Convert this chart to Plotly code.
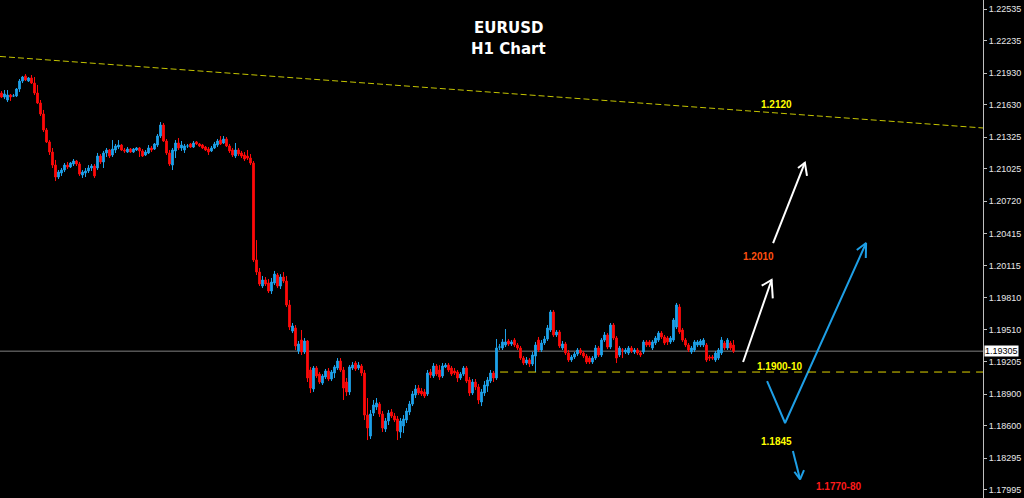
import plotly.graph_objects as go

# ---------------- data (EURUSD H1) ----------------
open_ = [
1.21742,1.21704,1.21676,1.21723,1.21714,1.21714,1.21780,1.21855,1.21903,1.21855,
1.21884,1.21836,1.21742,1.21648,1.21544,1.21393,1.21280,1.21185,1.21062,1.20949,
1.20987,1.21015,1.21062,1.21044,1.21072,1.21100,1.21072,1.20968,1.20987,1.21006,
1.21034,1.21053,1.21034,1.21147,1.21091,1.21176,1.21204,1.21157,1.21204,1.21232,
1.21251,1.21204,1.21185,1.21213,1.21185,1.21204,1.21223,1.21195,1.21157,1.21176,
1.21223,1.21213,1.21251,1.21336,1.21440,1.21289,1.21176,1.21062,1.21195,1.21270,
1.21223,1.21204,1.21242,1.21261,1.21232,1.21280,1.21261,1.21251,1.21232,1.21213,
1.21195,1.21223,1.21251,1.21298,1.21270,1.21308,1.21242,1.21204,1.21147,1.21204,
1.21176,1.21157,1.21147,1.21128,1.21081,1.20166,1.20052,1.19920,1.19977,1.19948,
1.19873,1.19948,1.20024,1.19920,1.20005,1.19967,1.19741,1.19495,1.19524,1.19307,
1.19410,1.19297,1.19401,1.19127,1.18948,1.19146,1.19089,1.19004,1.19061,1.19118,
1.19042,1.19099,1.19146,1.19212,1.19127,1.19014,1.18920,1.19146,1.19193,1.19146,
1.19165,1.19099,1.18702,1.18504,1.18721,1.18778,1.18806,1.18712,1.18570,1.18646,
1.18731,1.18693,1.18665,1.18542,1.18599,1.18655,1.18731,1.18806,1.18891,1.18957,
1.18929,1.18920,1.18901,1.19108,1.19071,1.19165,1.19127,1.19071,1.19156,1.19174,
1.19146,1.19118,1.19108,1.19052,1.19089,1.19146,1.19033,1.18910,1.19014,1.18967,
1.18825,1.18910,1.18976,1.19023,1.19099,1.19052,1.19344,1.19335,1.19363,1.19401,
1.19373,1.19410,1.19363,1.19335,1.19240,1.19193,1.19222,1.19184,1.19259,1.19410,
1.19316,1.19382,1.19420,1.19505,1.19675,1.19458,1.19486,1.19335,1.19373,1.19288,
1.19222,1.19250,1.19278,1.19316,1.19288,1.19259,1.19240,1.19203,1.19240,1.19335,
1.19269,1.19410,1.19458,1.19344,1.19552,1.19429,1.19269,1.19316,1.19297,1.19288,
1.19335,1.19297,1.19316,1.19288,1.19297,1.19392,1.19392,1.19335,1.19382,1.19410,
1.19476,1.19439,1.19429,1.19392,1.19410,1.19533,1.19722,1.19505,1.19410,1.19363,
1.19297,1.19316,1.19363,1.19363,1.19363,1.19363,1.19250,1.19250,1.19222,1.19240,
1.19288,1.19382,1.19335,1.19382,1.19363]

high = [
1.21761,1.21770,1.21770,1.21733,1.21733,1.21789,1.21874,1.21903,1.21921,1.21893,
1.21912,1.21893,1.21818,1.21676,1.21582,1.21412,1.21298,1.21223,1.21110,1.21015,
1.21034,1.21081,1.21091,1.21091,1.21119,1.21110,1.21091,1.21015,1.21034,1.21062,
1.21072,1.21072,1.21176,1.21166,1.21195,1.21223,1.21213,1.21298,1.21261,1.21298,
1.21261,1.21223,1.21232,1.21223,1.21223,1.21232,1.21232,1.21213,1.21204,1.21251,
1.21242,1.21270,1.21355,1.21468,1.21459,1.21308,1.21204,1.21223,1.21298,1.21317,
1.21289,1.21261,1.21261,1.21270,1.21289,1.21289,1.21270,1.21261,1.21242,1.21232,
1.21242,1.21280,1.21308,1.21336,1.21336,1.21327,1.21261,1.21223,1.21270,1.21223,
1.21195,1.21185,1.21204,1.21166,1.21100,1.20354,1.20090,1.20015,1.20005,1.19986,
1.19996,1.20062,1.20043,1.20033,1.20052,1.20015,1.19788,1.19571,1.19552,1.19401,
1.19505,1.19429,1.19410,1.19156,1.19165,1.19165,1.19108,1.19089,1.19137,1.19146,
1.19127,1.19174,1.19240,1.19240,1.19156,1.19052,1.19174,1.19203,1.19212,1.19203,
1.19184,1.19127,1.18863,1.18750,1.18844,1.18863,1.18825,1.18740,1.18674,1.18750,
1.18759,1.18721,1.18693,1.18674,1.18702,1.18768,1.18835,1.18929,1.18986,1.18986,
1.18957,1.18948,1.19127,1.19137,1.19193,1.19184,1.19174,1.19193,1.19193,1.19193,
1.19165,1.19146,1.19127,1.19108,1.19165,1.19165,1.19061,1.19042,1.19042,1.18995,
1.18948,1.19023,1.19061,1.19127,1.19118,1.19420,1.19373,1.19420,1.19514,1.19420,
1.19410,1.19429,1.19382,1.19354,1.19259,1.19250,1.19240,1.19297,1.19392,1.19439,
1.19410,1.19448,1.19552,1.19694,1.19694,1.19505,1.19505,1.19401,1.19392,1.19316,
1.19269,1.19297,1.19335,1.19335,1.19307,1.19278,1.19259,1.19259,1.19363,1.19354,
1.19429,1.19486,1.19476,1.19571,1.19571,1.19448,1.19354,1.19335,1.19335,1.19354,
1.19354,1.19335,1.19335,1.19307,1.19410,1.19410,1.19410,1.19410,1.19448,1.19495,
1.19495,1.19458,1.19448,1.19448,1.19618,1.19760,1.19750,1.19524,1.19429,1.19382,
1.19354,1.19410,1.19410,1.19420,1.19429,1.19382,1.19269,1.19269,1.19307,1.19335,
1.19439,1.19401,1.19429,1.19401,1.19410]

low = [
1.21695,1.21685,1.21657,1.21667,1.21704,1.21704,1.21752,1.21836,1.21855,1.21846,
1.21827,1.21723,1.21638,1.21525,1.21374,1.21270,1.21157,1.21034,1.20911,1.20930,
1.20959,1.20996,1.21025,1.21034,1.21053,1.21053,1.20959,1.20940,1.20949,1.20987,
1.21006,1.20940,1.21015,1.21072,1.21034,1.21138,1.21128,1.21138,1.21176,1.21213,
1.21195,1.21176,1.21176,1.21176,1.21176,1.21195,1.21138,1.21138,1.21147,1.21166,
1.21185,1.21204,1.21232,1.21317,1.21280,1.21157,1.21053,1.21015,1.21128,1.21204,
1.21195,1.21176,1.21223,1.21223,1.21223,1.21251,1.21232,1.21213,1.21195,1.21157,
1.21185,1.21213,1.21232,1.21251,1.21261,1.21232,1.21176,1.21138,1.21128,1.21147,
1.21128,1.21100,1.21110,1.21062,1.20147,1.20024,1.19920,1.19901,1.19920,1.19854,
1.19845,1.19930,1.19901,1.19892,1.19948,1.19722,1.19505,1.19476,1.19316,1.19278,
1.19269,1.19278,1.19014,1.18910,1.18920,1.19052,1.18995,1.18986,1.19042,1.19023,
1.19023,1.19052,1.19127,1.19108,1.18844,1.18882,1.18891,1.19127,1.19118,1.19127,
1.19071,1.18655,1.18466,1.18476,1.18693,1.18750,1.18684,1.18542,1.18542,1.18608,
1.18674,1.18636,1.18466,1.18485,1.18532,1.18627,1.18702,1.18787,1.18863,1.18891,
1.18882,1.18863,1.18882,1.19052,1.19052,1.19071,1.19033,1.19052,1.19146,1.19108,
1.19071,1.19080,1.19014,1.19033,1.19071,1.19004,1.18882,1.18891,1.18938,1.18806,
1.18787,1.18882,1.18920,1.19004,1.19014,1.19033,1.19316,1.19316,1.19344,1.19354,
1.19354,1.19344,1.19316,1.19222,1.19174,1.19174,1.19156,1.19165,1.19108,1.19297,
1.19297,1.19363,1.19401,1.19486,1.19439,1.19439,1.19335,1.19316,1.19269,1.19203,
1.19203,1.19231,1.19259,1.19269,1.19240,1.19184,1.19184,1.19184,1.19222,1.19250,
1.19250,1.19392,1.19325,1.19325,1.19410,1.19193,1.19250,1.19240,1.19278,1.19269,
1.19288,1.19278,1.19269,1.19250,1.19278,1.19344,1.19344,1.19316,1.19363,1.19392,
1.19420,1.19363,1.19363,1.19373,1.19392,1.19514,1.19467,1.19392,1.19344,1.19297,
1.19278,1.19297,1.19344,1.19344,1.19344,1.19203,1.19212,1.19222,1.19203,1.19222,
1.19269,1.19316,1.19316,1.19316,1.19288]

close = [
1.21704,1.21733,1.21723,1.21704,1.21714,1.21780,1.21855,1.21893,1.21865,1.21884,
1.21836,1.21742,1.21648,1.21544,1.21393,1.21280,1.21185,1.21062,1.20949,1.20996,
1.21015,1.21062,1.21044,1.21081,1.21100,1.21072,1.20977,1.20996,1.21006,1.21034,
1.21053,1.20959,1.21147,1.21091,1.21176,1.21204,1.21147,1.21213,1.21242,1.21251,
1.21204,1.21195,1.21213,1.21185,1.21213,1.21223,1.21195,1.21147,1.21185,1.21223,
1.21204,1.21261,1.21336,1.21440,1.21289,1.21176,1.21072,1.21204,1.21270,1.21223,
1.21251,1.21242,1.21242,1.21232,1.21270,1.21261,1.21242,1.21223,1.21204,1.21185,
1.21223,1.21261,1.21289,1.21261,1.21308,1.21242,1.21195,1.21157,1.21204,1.21166,
1.21147,1.21119,1.21128,1.21081,1.20166,1.20052,1.19939,1.19977,1.19939,1.19873,
1.19958,1.20033,1.19920,1.20005,1.19967,1.19741,1.19533,1.19543,1.19354,1.19373,
1.19297,1.19401,1.19052,1.18957,1.19146,1.19071,1.19014,1.19071,1.19118,1.19042,
1.19108,1.19156,1.19212,1.19127,1.18957,1.18920,1.19156,1.19174,1.19137,1.19174,
1.19099,1.18702,1.18580,1.18712,1.18797,1.18816,1.18712,1.18580,1.18646,1.18721,
1.18693,1.18655,1.18551,1.18646,1.18665,1.18740,1.18806,1.18901,1.18948,1.18910,
1.18901,1.18882,1.19099,1.19080,1.19165,1.19089,1.19061,1.19165,1.19174,1.19127,
1.19089,1.19099,1.19052,1.19089,1.19146,1.19023,1.18910,1.19014,1.18967,1.18844,
1.18920,1.18986,1.19033,1.19099,1.19052,1.19335,1.19344,1.19392,1.19392,1.19373,
1.19392,1.19363,1.19335,1.19240,1.19193,1.19222,1.19184,1.19269,1.19363,1.19316,
1.19382,1.19420,1.19524,1.19675,1.19458,1.19486,1.19354,1.19373,1.19288,1.19222,
1.19250,1.19278,1.19316,1.19288,1.19259,1.19203,1.19203,1.19240,1.19335,1.19269,
1.19410,1.19458,1.19344,1.19552,1.19429,1.19240,1.19335,1.19316,1.19316,1.19335,
1.19307,1.19316,1.19288,1.19269,1.19392,1.19363,1.19363,1.19392,1.19429,1.19476,
1.19439,1.19382,1.19392,1.19429,1.19599,1.19741,1.19486,1.19410,1.19363,1.19316,
1.19335,1.19392,1.19392,1.19401,1.19410,1.19222,1.19240,1.19240,1.19288,1.19316,
1.19410,1.19335,1.19410,1.19335,1.19305]

bar_index = list(range(len(close)))

price_ticks = [1.22535, 1.22235, 1.21930, 1.21630, 1.21325, 1.21025, 1.20720,
               1.20415, 1.20115, 1.19810, 1.19510, 1.19205, 1.18900, 1.18600,
               1.18295, 1.17995]
current_price = 1.19305
support_level = 1.19108
trend_start = 1.22087
trend_end = 1.21412

BULL = "#1ea2ea"
BEAR = "#ff0a0a"

fig = go.Figure()

fig.add_trace(go.Candlestick(
    x=bar_index, open=open_, high=high, low=low, close=close,
    increasing=dict(line=dict(color=BULL, width=1), fillcolor=BULL),
    decreasing=dict(line=dict(color=BEAR, width=1), fillcolor=BEAR),
    whiskerwidth=0, hoverinfo="skip", showlegend=False,
))

# analyst drawings (open-headed arrows)
def arrow_trace(xs, ys, color):
    return go.Scatter(x=xs, y=ys, mode="lines", line=dict(color=color, width=2),
                      hoverinfo="skip", showlegend=False)

fig.add_trace(arrow_trace([247.2, 256.7, None, 253.4, 256.7, 257.1],
                          [1.19203, 1.19977, None, 1.19923, 1.19977, 1.19804], "#ffffff"))
fig.add_trace(arrow_trace([257.2, 267.8, None, 265.5, 267.8, 268.5],
                          [1.20326, 1.21084, None, 1.21034, 1.21084, 1.20959], "#ffffff"))
fig.add_trace(arrow_trace([255.2, 261.2, 288.2, None, 285.1, 288.2, 288.1],
                          [1.19023, 1.18627, 1.20326, None, 1.20260, 1.20326, 1.20184], "#1e9fe6"))
fig.add_trace(arrow_trace([263.8, 266.2, None, 264.3, 266.2, 267.5],
                          [1.18363, 1.18095, None, 1.18167, 1.18095, 1.18183], "#1e9fe6"))

shapes = [
    dict(type="line", xref="paper", yref="y", x0=0, x1=1, y0=current_price, y1=current_price,
         line=dict(color="#808080", width=1), layer="below"),
    dict(type="line", xref="x", yref="y", x0=-0.5, x1=327.17, y0=trend_start, y1=trend_end,
         line=dict(color="#c4c400", width=1, dash="6px,3px")),
    dict(type="line", xref="x", yref="y", x0=166.2, x1=327.17, y0=support_level, y1=support_level,
         line=dict(color="#e0d400", width=1, dash="8px,6px")),
]

lab_font = dict(family="Liberation Sans, Arial, sans-serif", size=10)
annotations = [
    dict(text="<b>EURUSD</b>", xref="paper", yref="paper", x=0.5168, y=1 - 17 / 498,
         showarrow=False, font=dict(family="DejaVu Sans, sans-serif", size=15, color="white")),
    dict(text="<b>H1 Chart</b>", xref="paper", yref="paper", x=0.5168, y=1 - 38 / 498,
         showarrow=False, font=dict(family="DejaVu Sans, sans-serif", size=15, color="white")),
    dict(text="<b>1.2120</b>", x=258.2, y=1.21638, showarrow=False, font=dict(lab_font, color="#ffff00")),
    dict(text="<b>1.2010</b>", x=252.2, y=1.20203, showarrow=False, font=dict(lab_font, color="#ff5010")),
    dict(text="<b>1.1900-10</b>", x=259.5, y=1.19165, showarrow=False, font=dict(lab_font, color="#ffff00")),
    dict(text="<b>1.1845</b>", x=258.2, y=1.18457, showarrow=False, font=dict(lab_font, color="#ffff00")),
    dict(text="<b>1.1770-80</b>", x=279.0, y=1.18023, showarrow=False, font=dict(lab_font, color="#ff1a1a")),
    dict(text=f"{current_price:.5f}", xref="paper", yref="y", x=1, y=current_price, xanchor="left",
         xshift=1, showarrow=False, bgcolor="white", borderpad=0,
         font=dict(family="Liberation Sans, Arial, sans-serif", size=9, color="black")),
]

fig.update_layout(
    width=1024, height=498,
    margin=dict(l=0, r=41, t=0, b=0),
    paper_bgcolor="black", plot_bgcolor="black",
    showlegend=False, boxgap=0.2,
    shapes=shapes, annotations=annotations,
    xaxis=dict(visible=False, range=[-0.5, 327.17], rangeslider=dict(visible=False), fixedrange=True),
    yaxis=dict(side="right", range=[1.17919, 1.22620], tickvals=price_ticks,
               ticktext=[f"{v:.5f}" for v in price_ticks], ticks="outside", ticklen=3,
               tickcolor="#c0c0c0", showline=True, linecolor="#c0c0c0", linewidth=1,
               showgrid=False, zeroline=False, fixedrange=True,
               tickfont=dict(family="Liberation Sans, Arial, sans-serif", size=9, color="#e8e8e8")),
)

fig.write_html(
    "out.html",
    config={"displayModeBar": False},
    post_script="document.body.style.margin='0';document.body.style.overflow='hidden';"
                "document.body.style.background='black';",
)
